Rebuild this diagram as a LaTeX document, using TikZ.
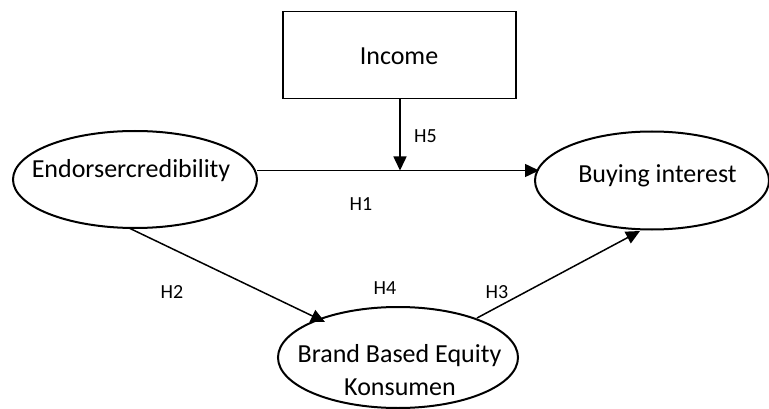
\documentclass[tikz,border=0pt]{standalone}
\usepackage{fontspec}
\setmainfont{Carlito}
\usetikzlibrary{arrows.meta,shapes.geometric}
\begin{document}
\begin{tikzpicture}[x=1pt,y=-1pt,
  ell/.style={draw,line width=2pt,ellipse,inner sep=0pt},
  arr/.style={line width=1.5pt,-{Triangle[length=14pt,width=13pt]}},
  lbl/.style={font=\fontsize{20}{24}\selectfont,anchor=base,inner sep=0pt},
  big/.style={font=\fontsize{26}{33}\selectfont,anchor=base,inner sep=0pt}]
\useasboundingbox (0,0) rectangle (769,409);
% shapes
\node[draw,line width=1.5pt,minimum width=233pt,minimum height=87pt,inner sep=0pt] (inc) at (399.5,55) {};
\node[ell,minimum width=244pt,minimum height=97pt] (end) at (135,179.5) {};
\node[ell,minimum width=234pt,minimum height=98pt] (buy) at (652,180.5) {};
\node[ell,minimum width=240pt,minimum height=101pt] (brd) at (398,357.5) {};
% texts
\node[big] (tinc) at (399,65) {Income};
\node[big] (tend) at (131,178) {Endorsercredibility};
\node[big] (tbuy) at (657.5,183) {Buying interest};
\node[big] (tbrd1) at (399.5,362) {Brand Based Equity};
\node[big] (tbrd2) at (400,395) {Konsumen};
% connectors
\coordinate (h1s) at (257,170.5);
\coordinate (h1e) at (539,170.5);
\draw[arr] (h1s) -- (h1e);
\coordinate (h5e) at (400,170.5);
\draw[arr] (inc.south -| h5e) -- (h5e);
\coordinate (h2s) at (129,228);
\coordinate (h2e) at (325,322);
\draw[arr] (h2s) -- (h2e);
\coordinate (h3s) at (477,318);
\coordinate (h3e) at (640,231);
\draw[arr] (h3s) -- (h3e);
% labels
\node[lbl] (l5) at (425.5,143) {H5};
\node[lbl] (l1) at (361,211) {H1};
\node[lbl] (l2) at (172,298) {H2};
\node[lbl] (l4) at (385,294) {H4};
\node[lbl] (l3) at (497,298) {H3};
\end{tikzpicture}
\end{document}
